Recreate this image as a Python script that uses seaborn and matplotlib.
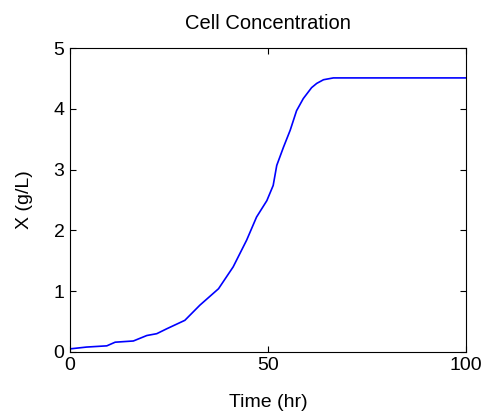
import matplotlib
matplotlib.use("Agg")
import matplotlib.pyplot as plt
import seaborn as sns
import pandas as pd

time_hr = [0, 4.2, 9.3, 11.4, 16, 19.4, 21.9, 24.4, 29, 32.8, 37.5, 41.2, 44.6,
           47.1, 49.7, 51.3, 52.2, 53.9, 55.6, 57.2, 58.9, 61, 62.3, 64, 66.5, 100]
cell_x = [0.05, 0.08, 0.10, 0.16, 0.18, 0.27, 0.30, 0.38, 0.52, 0.77, 1.04, 1.40, 1.84,
          2.22, 2.49, 2.74, 3.07, 3.37, 3.65, 3.97, 4.17, 4.35, 4.42, 4.48, 4.51, 4.51]
x_ticks = [0, 50, 100]
y_ticks = [0, 1, 2, 3, 4, 5]

sns.set_style("ticks")
plt.rcParams['font.family'] = ['Liberation Sans', 'DejaVu Sans']
plt.rcParams['text.color'] = 'black'
plt.rcParams['axes.labelcolor'] = 'black'

df = pd.DataFrame({"t": time_hr, "X": cell_x})

fig = plt.figure(figsize=(4.85, 4.15), dpi=100)
ax = fig.add_axes([0.1443, 0.152, 0.8167, 0.732])
sns.lineplot(data=df, x="t", y="X", ax=ax, color="#0000ff", linewidth=1.2)

ax.set_xlim(0, 100)
ax.set_ylim(0, 5)
ax.set_xticks(x_ticks)
ax.set_yticks(y_ticks)
ax.tick_params(direction="in", length=4, width=0.8, top=True, right=True,
               labelsize=14, colors="black", pad=4)
for s in ax.spines.values():
    s.set_visible(True)
    s.set_linewidth(0.8)
    s.set_color("black")
ax.set_title("Cell Concentration", fontsize=14.5, pad=13.5, color="black")
ax.set_xlabel("Time (hr)", fontsize=14, labelpad=14)
ax.set_ylabel("X (g/L)", fontsize=14, labelpad=15)

fig.savefig("out.png", dpi=100, facecolor="white")
